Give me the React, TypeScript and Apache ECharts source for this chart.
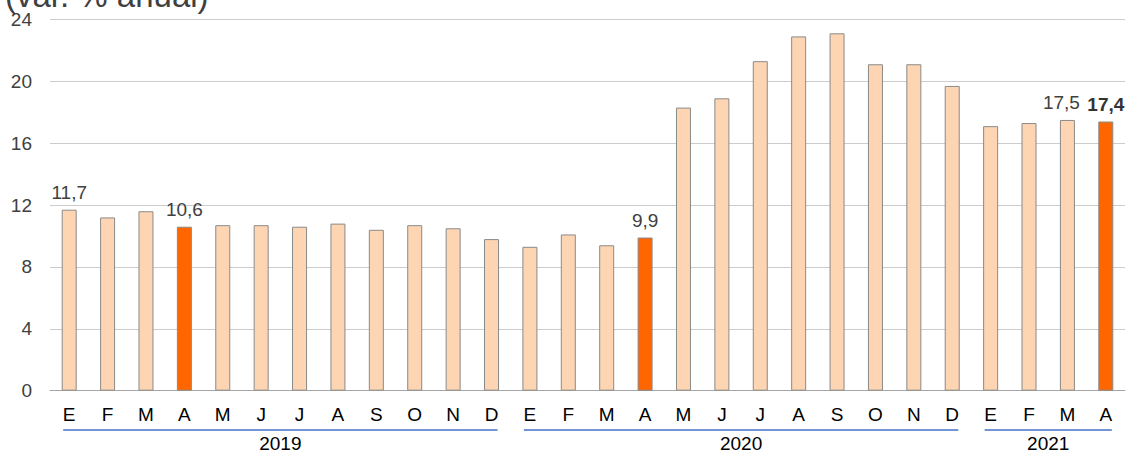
import React, { useEffect, useRef } from "react";
import * as echarts from "echarts";

const months = ["E","F","M","A","M","J","J","A","S","O","N","D","E","F","M","A","M","J","J","A","S","O","N","D","E","F","M","A"];
const values = [11.7,11.2,11.6,10.6,10.7,10.7,10.6,10.8,10.4,10.7,10.5,9.8,9.3,10.1,9.4,9.9,18.3,18.9,21.3,22.9,23.1,21.1,21.1,19.7,17.1,17.3,17.5,17.4];
const highlighted = [3, 15, 27];
const labelled = [0, 3, 15, 26, 27];
const boldLabel = [27];
const years = ["2019", "2020", "2021"];
const yearStart = [0, 12, 24];
const yearEnd = [11, 23, 27];
const yTicks = { min: 0, max: 24, interval: 4 };
const title = "(var. % anual)";

const FONT = "'Liberation Sans', Arial, Helvetica, sans-serif";

export default function App() {
  const ref = useRef<HTMLDivElement>(null);
  useEffect(() => {
    document.body.style.margin = "0";
    if (!ref.current) return;
    const chart = echarts.init(ref.current, null, { renderer: "svg" });
    const fmt = (v: number) => v.toFixed(1).replace(".", ",");
    const data = values.map((v, i) => {
      const hi = highlighted.includes(i);
      const lab = labelled.includes(i);
      const bold = boldLabel.includes(i);
      const beforeBold = boldLabel.includes(i + 1) && lab;
      return {
        value: v,
        itemStyle: { color: hi ? "#FF6600" : "#FDD5B2", borderColor: "#8a8a8a", borderWidth: 1 },
        label: {
          show: lab,
          position: "top",
          distance: 8,
          offset: beforeBold ? [-6, 0] : [0, 0],
          formatter: () => fmt(v),
          color: bold ? "#333333" : "#404040",
          fontWeight: bold ? "bold" : "normal",
          fontSize: 19,
          fontFamily: FONT,
        },
      };
    });
    chart.setOption({
      animation: false,
      grid: { left: 50, right: 1, top: 19.4, bottom: 62.3 },
      xAxis: {
        type: "category",
        data: months,
        boundaryGap: true,
        axisTick: { show: false },
        axisLine: { show: true, lineStyle: { color: "#a6a6a6", width: 1 } },
        axisLabel: { color: "#000000", fontSize: 19, fontFamily: FONT, margin: 14, interval: 0 },
      },
      yAxis: {
        type: "value",
        min: yTicks.min,
        max: yTicks.max,
        interval: yTicks.interval,
        axisLine: { show: false },
        axisTick: { show: false },
        axisLabel: { color: "#404040", fontSize: 19, fontFamily: FONT, margin: 18 },
        splitLine: { lineStyle: { color: "#cccccc", width: 1 } },
      },
      series: [
        {
          type: "bar",
          data,
          barWidth: 15,
        },
      ],
    });
    const px = (i: number) => chart.convertToPixel({ xAxisIndex: 0 }, i) as number;
    const graphics: any[] = [
      {
        type: "text",
        x: 5,
        y: -4.5,
        style: { text: title, font: `33px ${FONT}`, fill: "#404040", verticalAlign: "middle", align: "left" },
      },
    ];
    years.forEach((y, k) => {
      const x1 = px(yearStart[k]) - 6;
      const x2 = px(yearEnd[k]) + 6;
      graphics.push({
        type: "line",
        shape: { x1, y1: 430, x2, y2: 430 },
        style: { stroke: "#4472C4", lineWidth: 1.5 },
      });
      graphics.push({
        type: "text",
        x: (px(yearStart[k]) + px(yearEnd[k])) / 2,
        y: 443,
        style: { text: y, font: `19px ${FONT}`, fill: "#000000", align: "center", verticalAlign: "middle" },
      });
    });
    chart.setOption({ graphic: graphics });
    return () => chart.dispose();
  }, []);
  return <div ref={ref} style={{ width: 1126, height: 453 }} />;
}
